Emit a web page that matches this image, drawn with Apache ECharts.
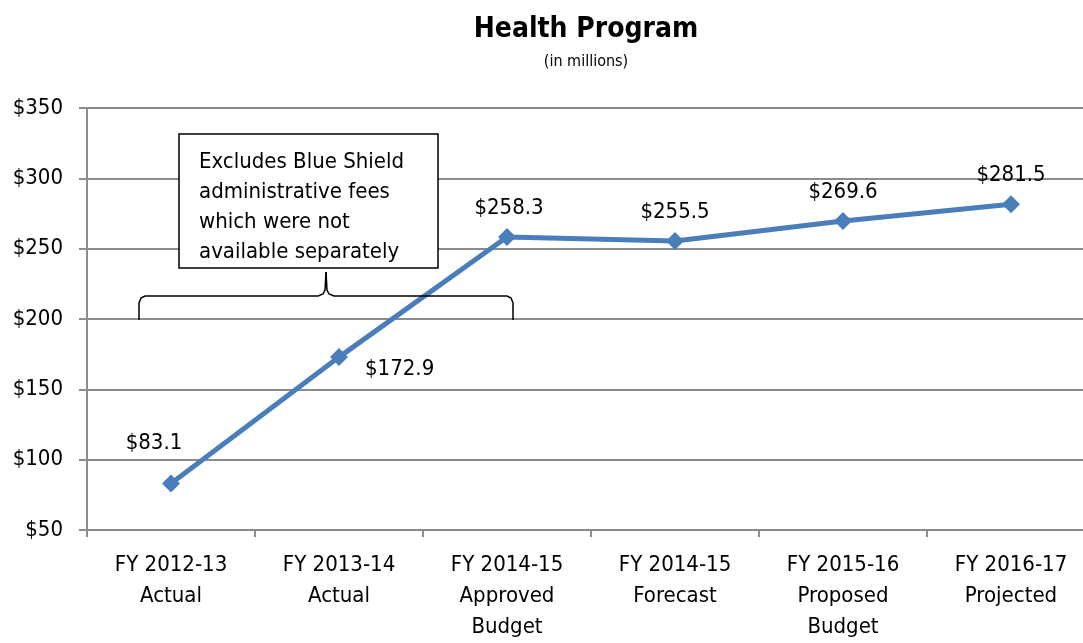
<!DOCTYPE html>
<html>
<head>
<meta charset="utf-8">
<script src="https://cdn.jsdelivr.net/npm/echarts@6/dist/echarts.min.js"></script>
<style>
html,body{margin:0;padding:0;background:#fff;overflow:hidden;}
#chart{width:1100px;height:643px;}
</style>
</head>
<body>
<div id="chart"></div>
<script>
const categories = ['FY 2012-13\nActual', 'FY 2013-14\nActual', 'FY 2014-15\nApproved\nBudget', 'FY 2014-15\nForecast', 'FY 2015-16\nProposed\nBudget', 'FY 2016-17\nProjected']
const values = [83.1, 172.9, 258.3, 255.5, 269.6, 281.5]
const yTicks = {min: 50, max: 350, step: 50}
const noteLines = ['Excludes Blue Shield', 'administrative fees', 'which were not', 'available separately']

const FONT = '"DejaVu Sans Condensed", "Liberation Sans Narrow", "Liberation Sans", sans-serif'
const lineColor = '#4a7ebb'
const gridColor = '#8c8c8c'

// label placement per point, tweaked to match the picture
const labelPos = [
	{position: 'top', offset: [-17, -15]},
	{position: 'right', offset: [12, 12]},
	{position: 'top', offset: [2, -4]},
	{position: 'top', offset: [0, -4]},
	{position: 'top', offset: [0, -4]},
	{position: 'top', offset: [0, -4]}
]

let chart = echarts.init(document.getElementById('chart'))
chart.setOption({
	animation: false,
	textStyle: {fontFamily: FONT},
	title: {
		text: 'Health Program',
		subtext: '(in millions)',
		left: 581,
		textAlign: 'center',
		top: 11,
		itemGap: 10,
		textStyle: {fontFamily: FONT, fontSize: 28, fontWeight: 'bold', color: '#000'},
		subtextStyle: {fontFamily: FONT, fontSize: 16, color: '#000'}
	},
	grid: {left: 87, right: 5, top: 108, bottom: 107, containLabel: false},
	xAxis: {
		type: 'category',
		data: categories,
		boundaryGap: true,
		axisLine: {lineStyle: {color: gridColor, width: 2}},
		axisTick: {show: true, length: 7, lineStyle: {color: gridColor, width: 2}},
		axisLabel: {color: '#000', fontSize: 22, lineHeight: 31, margin: 20, fontFamily: FONT, interval: 0}
	},
	yAxis: {
		type: 'value',
		min: yTicks.min,
		max: yTicks.max,
		interval: yTicks.step,
		axisLine: {show: true, lineStyle: {color: gridColor, width: 2}},
		axisTick: {show: true, length: 8, lineStyle: {color: gridColor, width: 2}},
		splitLine: {lineStyle: {color: gridColor, width: 2}},
		axisLabel: {color: '#000', fontSize: 22, margin: 24, fontFamily: FONT, formatter: v => '$' + v}
	},
	series: [{
		type: 'line',
		data: values.map((v, i) => ({
			value: v,
			label: {show: true, position: labelPos[i].position, offset: labelPos[i].offset}
		})),
		symbol: 'diamond',
		symbolSize: 18,
		lineStyle: {color: lineColor, width: 5},
		itemStyle: {color: lineColor},
		label: {color: '#000', fontSize: 22, fontFamily: FONT, formatter: p => '$' + p.value.toFixed(1)},
		z: 5
	}],
	graphic: [
		{
			type: 'rect',
			shape: {x: 179, y: 134, width: 259, height: 134},
			style: {fill: '#fff', stroke: '#000', lineWidth: 1.5},
			z: 10
		},
		{
			type: 'text',
			x: 199, y: 147,
			style: {text: noteLines.join('\n'), font: '22px ' + FONT, fill: '#000', lineHeight: 30},
			z: 11
		},
		{
			type: 'polyline',
			shape: {points: [[139, 320], [139, 303], [141, 298], [145, 296], [318, 296], [323, 294], [325, 290], [326, 272]]},
			style: {fill: null, stroke: '#000', lineWidth: 1.5},
			z: 10
		},
		{
			type: 'polyline',
			shape: {points: [[513, 320], [513, 303], [511, 298], [507, 296], [334, 296], [329, 294], [327, 290], [326, 272]]},
			style: {fill: null, stroke: '#000', lineWidth: 1.5},
			z: 10
		}
	]
})
</script>
</body>
</html>
